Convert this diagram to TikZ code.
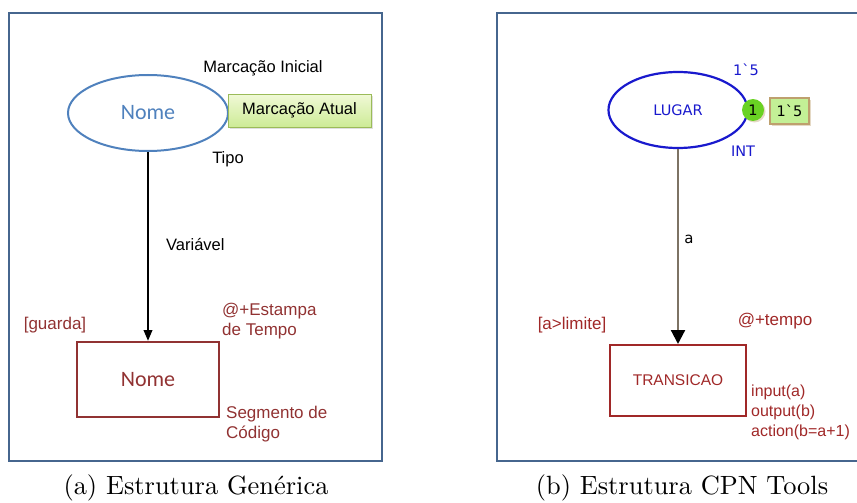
\documentclass[tikz,border=0pt]{standalone}
\usepackage{fontspec}
\newfontfamily\arialf{Liberation Sans}
\newfontfamily\calibrif{Carlito}
\newfontfamily\verdf{DejaVu Sans}
\usetikzlibrary{arrows.meta,shadows,shapes.geometric}

\definecolor{framec}{RGB}{70,102,142}
\definecolor{placec}{RGB}{79,129,189}
\definecolor{transc}{RGB}{145,50,50}
\definecolor{cpnblue}{RGB}{25,25,205}
\definecolor{cpntrans}{RGB}{160,40,40}
\definecolor{cpnarc}{RGB}{125,115,100}
\definecolor{tokgreen}{RGB}{105,210,35}
\definecolor{markfill}{RGB}{195,240,150}
\definecolor{markedge}{RGB}{190,160,110}
\definecolor{boxtop}{RGB}{240,249,215}
\definecolor{boxbot}{RGB}{205,235,150}
\definecolor{boxedge}{RGB}{155,187,89}

\tikzset{
  panel/.style={draw=framec, line width=2.8pt},
  lbl/.style={font=\arialf\fontsize{16.5}{20}\selectfont, inner sep=0pt},
  brownlbl/.style={font=\arialf\fontsize{17}{20}\selectfont, inner sep=0pt, text=transc, align=left},
  cpnlbl/.style={font=\verdf\fontsize{14.5}{17}\selectfont, text=cpnblue, inner sep=0pt},
  caption/.style={font=\normalsize, scale=2.64, inner sep=0pt},
}

\begin{document}
\begin{tikzpicture}[x=1pt,y=-1pt]
\useasboundingbox (0,0) rectangle (857,503);

% ---------- (a) generic structure ----------
\draw[panel] (9,13) rectangle (382,461);

\node[ellipse, draw=placec, line width=2pt, minimum width=160pt, minimum height=76pt,
      inner sep=0pt, text=placec, font=\calibrif\fontsize{22}{26}\selectfont] (place) at (148,113) {Nome};
\node[rectangle, draw=transc, line width=2pt, minimum width=142pt, minimum height=75pt,
      inner sep=0pt, text=transc, font=\calibrif\fontsize{22}{26}\selectfont] (trans) at (148,379.5) {Nome};

\draw[line width=2.2pt, -{Triangle[width=8.5pt,length=11pt]}] (place) -- (trans);

\node[lbl] (ini) at (263,68) {Marcação Inicial};
\node[rectangle, draw=boxedge, line width=0.9pt, top color=boxtop, bottom color=boxbot,
      minimum width=143pt, minimum height=33pt, lbl,
      drop shadow={opacity=0.25, shadow xshift=2pt, shadow yshift=-2pt}] (atual) at (299.5,110.5) {Marcação Atual};
\node[lbl] (tipo) at (228,159) {Tipo};
\node[lbl, anchor=west] (var) at (166,245) {Variável};

\node[brownlbl] (guarda) at (55,325) {[guarda]};
\node[brownlbl, anchor=west] (estampa) at (222,321) {@+Estampa\\de Tempo};
\node[brownlbl, anchor=west] (codigo) at (226,424) {Segmento de\\Código};

\node[caption] (capa) at (196,488) {(a) Estrutura Genérica};

% ---------- (b) CPN Tools structure ----------
\draw[panel] (870,13) -- (497,13) -- (497,461) -- (870,461);

\node[ellipse, draw=cpnblue, line width=2.2pt, minimum width=139pt, minimum height=76pt,
      inner sep=0pt, cpnlbl] (lugar) at (678,110) {LUGAR};
\node[rectangle, draw=cpntrans, line width=2pt, minimum width=136pt, minimum height=71pt,
      inner sep=0pt, text=cpntrans, font=\arialf\fontsize{15.5}{18}\selectfont] (transicao) at (678,380.5) {TRANSICAO};

\draw[cpnarc, line width=2.2pt, -{Triangle[width=14pt,length=14pt,color=black]}] (lugar) -- (transicao);

\node[cpnlbl] (mini) at (746,70) {1\textasciigrave 5};
\node[cpnlbl] (tipoint) at (743,151) {INT};
\node[circle, fill=tokgreen, minimum size=22pt, inner sep=0pt,
      font=\verdf\fontsize{14.5}{17}\selectfont,
      drop shadow={opacity=0.4, fill=markedge, shadow xshift=1.5pt, shadow yshift=-1.5pt}] (tok) at (753,110) {1};
\node[rectangle, fill=markfill, draw=markedge, line width=1.2pt, minimum width=39pt, minimum height=26pt,
      inner sep=0pt, font=\verdf\fontsize{14.5}{17}\selectfont,
      drop shadow={opacity=0.4, fill=markedge, shadow xshift=1.5pt, shadow yshift=-1.5pt}] (mcur) at (789.5,111) {1\textasciigrave 5};

\node[font=\verdf\fontsize{15}{17}\selectfont, inner sep=0pt] (arcv) at (689,239) {a};

\node[brownlbl, text=cpntrans] (guard) at (572,325) {[a>limite]};
\node[brownlbl, text=cpntrans] (tempo) at (775,321) {@+tempo};
\node[brownlbl, text=cpntrans, font=\arialf\fontsize{16}{20}\selectfont, anchor=west] (code) at (751,412)
  {input(a)\\output(b)\\action(b=a+1)};

\node[caption] (capb) at (682,488) {(b) Estrutura CPN Tools};
\end{tikzpicture}
\end{document}
